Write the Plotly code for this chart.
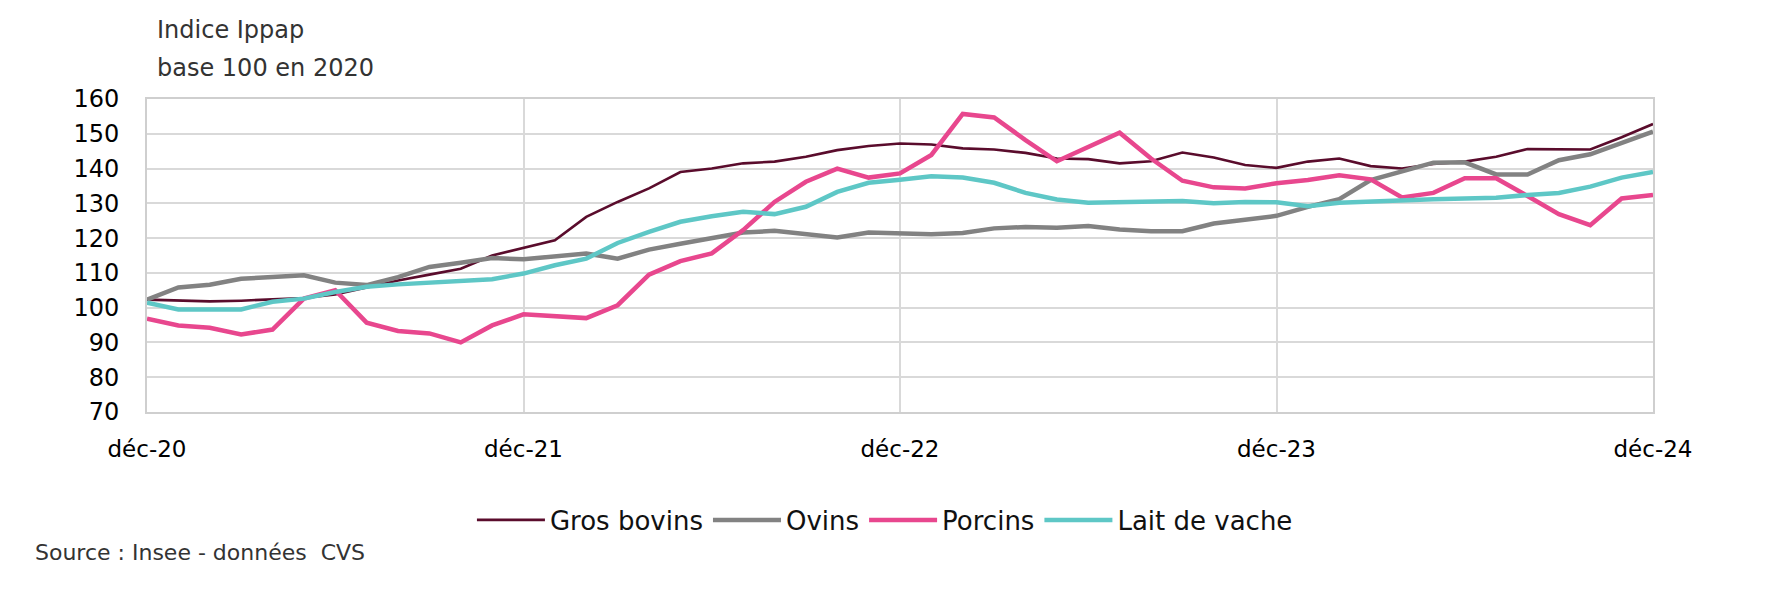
import plotly.graph_objects as go

# ---- data ----
month_abbr = ["janv", "févr", "mars", "avr", "mai", "juin",
              "juil", "août", "sept", "oct", "nov", "déc"]
months = ["déc-20"] + [f"{m}-{y}" for y in ["21", "22", "23", "24"] for m in month_abbr]

gros_bovins = [102.3, 102.1, 101.8, 102.0, 102.4, 102.8, 103.8, 105.8, 107.8, 109.5, 111.2, 115.0,
               117.3, 119.4, 126.1, 130.4, 134.3, 139.0, 140.0, 141.5, 142.0, 143.4, 145.3, 146.5,
               147.2, 146.9, 145.8, 145.5, 144.5, 142.9, 142.7, 141.5, 142.1, 144.6, 143.2, 141.0,
               140.2, 142.0, 142.9, 140.7, 140.0, 141.3, 142.0, 143.4, 145.6, 145.6, 145.5, 149.0,
               152.8]
ovins = [102.3, 105.8, 106.6, 108.3, 108.8, 109.3, 107.2, 106.5, 108.8, 111.7, 112.9, 114.3,
         113.9, 114.8, 115.6, 114.1, 116.7, 118.4, 119.9, 121.6, 122.1, 121.3, 120.2, 121.6,
         121.3, 121.1, 121.5, 122.8, 123.2, 123.0, 123.5, 122.5, 122.0, 122.0, 124.2, 125.4,
         126.4, 129.0, 131.2, 136.7, 139.1, 141.7, 141.8, 138.3, 138.3, 142.4, 144.1, 147.2,
         150.6]
porcins = [96.8, 94.9, 94.2, 92.3, 93.7, 102.6, 105.0, 95.7, 93.3, 92.6, 90.0, 94.9,
           98.1, 97.5, 97.0, 100.7, 109.5, 113.4, 115.6, 122.3, 130.4, 136.2, 140.0, 137.4,
           138.6, 143.9, 155.7, 154.7, 148.2, 142.1, 146.3, 150.3, 142.9, 136.5, 134.6, 134.3,
           135.8, 136.7, 138.1, 136.9, 131.7, 133.0, 137.2, 137.2, 132.1, 126.9, 123.7, 131.4,
           132.4]
lait_de_vache = [101.4, 99.5, 99.5, 99.5, 101.7, 102.6, 104.5, 106.0, 106.7, 107.2, 107.6, 108.2,
                 109.8, 112.2, 114.1, 118.6, 121.8, 124.7, 126.3, 127.6, 126.9, 129.0, 133.3, 135.9,
                 136.8, 137.8, 137.4, 135.9, 133.0, 131.1, 130.2, 130.3, 130.6, 130.7, 130.0, 130.4,
                 130.3, 129.2, 130.2, 130.6, 131.1, 131.2, 131.4, 131.6, 132.4, 133.0, 134.8, 137.4,
                 139.0]

tick_labels = ["déc-20", "déc-21", "déc-22", "déc-23", "déc-24"]
y_ticks = [70, 80, 90, 100, 110, 120, 130, 140, 150, 160]

series = [
    ("Gros bovins", gros_bovins, "#5a0c2c", 2.6),
    ("Ovins", ovins, "#828282", 4.5),
    ("Porcins", porcins, "#e8478e", 4.5),
    ("Lait de vache", lait_de_vache, "#5ec7c6", 4.5),
]

FONT = "DejaVu Sans"

fig = go.Figure()
for name, vals, color, w in series:
    fig.add_trace(go.Scatter(x=months, y=vals, name=name, mode="lines",
                             line=dict(color=color, width=w)))

fig.update_layout(
    width=1774, height=610,
    margin=dict(l=147, r=121, t=99, b=198),
    paper_bgcolor="white", plot_bgcolor="white",
    font=dict(family=FONT, color="black"),
    showlegend=True,
    legend=dict(orientation="h", x=0.49, xanchor="center", y=-0.345, yanchor="middle",
                font=dict(family=FONT, size=26, color="#111111"),
                itemwidth=68, tracegroupgap=0),
    xaxis=dict(type="category", range=[0, len(months) - 1],
               tickmode="array", tickvals=tick_labels, ticktext=tick_labels,
               showgrid=True, gridcolor="#d9d9d9", gridwidth=2,
               showline=True, linecolor="#cfcfcf", linewidth=2, mirror=True,
               ticks="", tickfont=dict(family=FONT, size=23, color="black"),
               ticklabelstandoff=15, zeroline=False),
    yaxis=dict(range=[70, 160], tickmode="array", tickvals=y_ticks,
               showgrid=True, gridcolor="#d9d9d9", gridwidth=2,
               showline=True, linecolor="#cfcfcf", linewidth=2, mirror=True,
               ticks="", tickfont=dict(family=FONT, size=24, color="black"),
               ticklabelstandoff=21, zeroline=False),
    annotations=[
        dict(text="Indice Ippap", xref="paper", yref="paper", x=0.005, y=1.222,
             xanchor="left", yanchor="middle", showarrow=False,
             font=dict(family=FONT, size=24, color="#333333")),
        dict(text="base 100 en 2020", xref="paper", yref="paper", x=0.005, y=1.1,
             xanchor="left", yanchor="middle", showarrow=False,
             font=dict(family=FONT, size=24, color="#333333")),
        dict(text="Source : Insee - données  CVS", xref="paper", yref="paper", x=-0.076, y=-0.45,
             xanchor="left", yanchor="middle", showarrow=False,
             font=dict(family=FONT, size=22, color="#333333")),
    ],
)

fig.write_html("out.html")
